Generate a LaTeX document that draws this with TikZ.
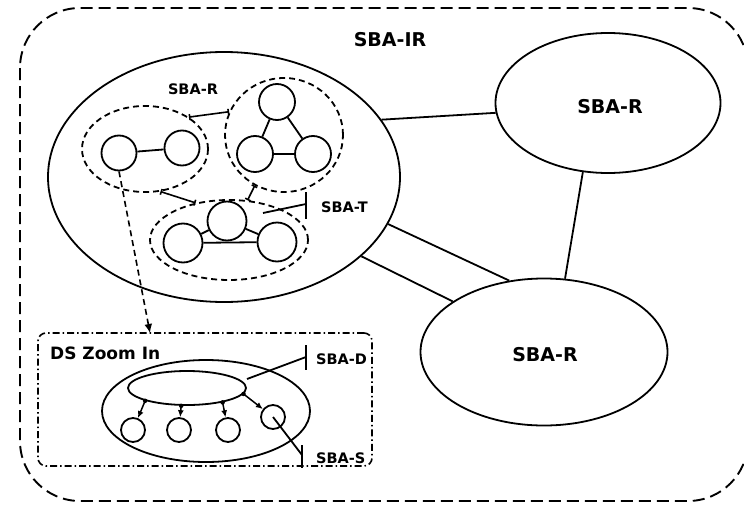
\documentclass[tikz,border=0pt]{standalone}
\usepackage{fontspec}
\setmainfont{DejaVu Sans}
\usetikzlibrary{shapes.geometric,arrows.meta}
\tikzset{
  lw/.style={line width=1.8pt},
  ell/.style={ellipse,draw,lw,inner sep=0pt},
  crc/.style={circle,draw,lw,inner sep=0pt,minimum size=#1},
  dell/.style={ellipse,draw,line width=1.8pt,dash pattern=on 6pt off 4pt,inner sep=0pt},
  conn/.style={lw},
  tconn/.style={line width=1.6pt,{Bar[width=6pt]}-{Bar[width=6pt]}},
  biglbl/.style={font=\fontsize{19}{21}\selectfont\bfseries,inner sep=0pt},
  midlbl/.style={font=\fontsize{17}{19}\selectfont\bfseries,inner sep=0pt},
  smllbl/.style={font=\fontsize{14.5}{16}\selectfont\bfseries,inner sep=0pt},
  zarr/.style={line width=1.5pt,-{Latex[length=7pt,width=6pt]}},
  zdot/.style={circle,fill,inner sep=0pt,minimum size=4.5pt}
}
\begin{document}
\begin{tikzpicture}[x=1pt,y=-1pt]
\useasboundingbox (0,0) rectangle (744,506);
% outer region
\draw[line width=1.9pt,dash pattern=on 12pt off 6pt,rounded corners=60pt] (20,8) rectangle (748,501);
\node[biglbl] (lir) at (390,40) {SBA-IR};
% big ellipse
\node[ell,minimum width=352pt,minimum height=250pt] (big) at (224,177) {};
\node[ell,minimum width=225pt,minimum height=140pt] (tr) at (608,103) {};
\node[biglbl] (ltr) at (610,107) {SBA-R};
\node[ell,minimum width=247pt,minimum height=147pt] (br) at (544,352) {};
\node[biglbl] (lbr) at (545,355) {SBA-R};
\draw[conn] (big.20) -- (tr.185);
\draw[conn] (tr.250) -- (br.74);
\draw[conn] (big.344) -- (br.116);
\draw[conn] (big.330) -- (br.151);
% clusters
\node[smllbl] (lr) at (193,89) {SBA-R};
\node[dell,minimum width=126pt,minimum height=86pt] (e1) at (145,149) {};
\node[dell,minimum width=118pt,minimum height=114pt] (e2) at (284,135) {};
\node[dell,minimum width=158pt,minimum height=80pt] (e3) at (229,240) {};
\node[crc=35pt] (a1) at (119,153) {};
\node[crc=35pt] (a2) at (182,148) {};
\draw[conn] (a1) -- (a2);
\node[crc=36pt] (b1) at (277,102) {};
\node[crc=36pt] (b2) at (255,154) {};
\node[crc=36pt] (b3) at (313,154) {};
\draw[conn] (b1) -- (b2);
\draw[conn] (b1) -- (b3);
\draw[conn] (b2) -- (b3);
\node[crc=39pt] (c1) at (227,221) {};
\node[crc=39pt] (c2) at (183,243) {};
\node[crc=39pt] (c3) at (277,242) {};
\draw[conn] (c1) -- (c2);
\draw[conn] (c1) -- (c3);
\draw[conn] (c2) -- (c3);
\draw[tconn] (e1.36) -- (e2.157);
\draw[tconn] (e1.290) -- (e3.132);
\draw[tconn] (e2.240) -- (e3.65);
% SBA-T
\coordinate (ts) at (263,213);
\coordinate (tt) at (306,204);
\draw[conn] (ts) -- (tt);
\draw[line width=2pt] (tt) ++(0,-12) -- ++(0,27);
\node[smllbl,anchor=west] (lt) at (321,207) {SBA-T};
% zoom box
\node[draw,line width=1.6pt,dash pattern=on 7pt off 3pt on 1.5pt off 3pt,rounded corners=8pt,minimum width=334pt,minimum height=133pt,inner sep=0pt] (zb) at (205,399.5) {};
\coordinate (zt) at (150,333);
\draw[line width=1.6pt,dash pattern=on 6pt off 4pt,-{Latex[length=9pt,width=8pt]}] (a1.south) -- (zt);
\node[midlbl,anchor=west] (lz) at (50,353) {DS Zoom In};
\node[ell,minimum width=208pt,minimum height=102pt] (zo) at (206,411) {};
\node[ell,minimum width=118pt,minimum height=34pt] (ie) at (187,388) {};
\node[crc=24pt] (s1) at (133,430) {};
\node[crc=24pt] (s2) at (179,430) {};
\node[crc=24pt] (s3) at (228,430) {};
\node[crc=24pt] (s4) at (273,417) {};
\draw[zarr] (ie.197) node[zdot] (d1) {} -- (s1);
\draw[zarr] (ie.252) node[zdot] (d2) {} -- (s2);
\draw[zarr] (ie.338) node[zdot] (d3) {} -- (s3);
\draw[zarr] (ie.354) node[zdot] (d4) {} -- (s4);
% SBA-D
\coordinate (ds) at (247,379);
\coordinate (dt) at (306,357);
\draw[conn] (ds) -- (dt);
\draw[line width=2pt] (dt) ++(0,-12) -- ++(0,25);
\node[smllbl,anchor=west] (ld) at (316,359) {SBA-D};
% SBA-S
\coordinate (st) at (302,455);
\draw[conn] (s4.center) -- (st);
\draw[line width=2pt] (st) ++(0,-10) -- ++(0,23);
\node[smllbl,anchor=west] (ls) at (316,458) {SBA-S};
\end{tikzpicture}
\end{document}
